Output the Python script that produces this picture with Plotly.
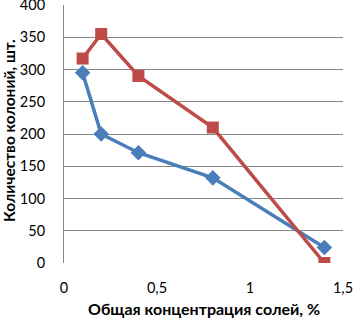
import plotly.graph_objects as go

x_vals = [0.1, 0.2, 0.4, 0.8, 1.4]
series_blue = [295, 200, 171, 132, 24]
series_red = [317, 355, 290, 210, 0]
x_ticks = [0, 0.5, 1, 1.5]
x_tick_labels = ["0", "0,5", "1", "1,5"]
y_ticks = [0, 50, 100, 150, 200, 250, 300, 350, 400]
x_title = "Общая концентрация солей, %"
y_title = "Количество колоний, шт."

fig = go.Figure()
fig.add_trace(go.Scatter(x=x_vals, y=series_blue, mode="lines+markers",
                         line=dict(color="#4A7EBB", width=3.5),
                         marker=dict(symbol="diamond", size=12, color="#4A7EBB")))
fig.add_trace(go.Scatter(x=x_vals, y=series_red, mode="lines+markers",
                         line=dict(color="#BE4B48", width=3.5),
                         marker=dict(symbol="square", size=12, color="#BE4B48")))

font = "Lato, Open Sans, sans-serif"
fig.update_layout(
    width=354, height=321,
    margin=dict(l=64, r=11, t=5, b=58),
    paper_bgcolor="white", plot_bgcolor="white",
    showlegend=False,
    font=dict(family=font, size=14, color="#000000"),
    xaxis=dict(range=[0, 1.5], tickvals=x_ticks, ticktext=x_tick_labels,
               showgrid=False, zeroline=False, showline=False,
               ticks="", automargin=False, ticklabelstandoff=14,
               ticklabeloverflow="allow",
               tickfont=dict(size=14.5)),
    yaxis=dict(range=[0, 400], tickvals=y_ticks,
               showgrid=True, gridcolor="#878787", gridwidth=1,
               zeroline=False, showline=True, linecolor="#878787", linewidth=1,
               ticks="", automargin=False, ticklabelstandoff=15,
               ticklabeloverflow="allow",
               tickfont=dict(size=14.5)),
    annotations=[
        dict(text="<b>" + x_title + "</b>", xref="paper", yref="paper",
             x=0.5, y=-0.178, xanchor="center", yanchor="middle",
             showarrow=False, font=dict(size=16)),
        dict(text="<b>" + y_title + "</b>", xref="paper", yref="paper",
             x=-0.197, y=0.512, xanchor="center", yanchor="middle",
             textangle=-90, showarrow=False, font=dict(size=15.5)),
    ],
)
fig.write_html("out.html",
               config={"displayModeBar": False},
               post_script="document.body.style.margin='0';document.body.style.overflow='hidden';")
